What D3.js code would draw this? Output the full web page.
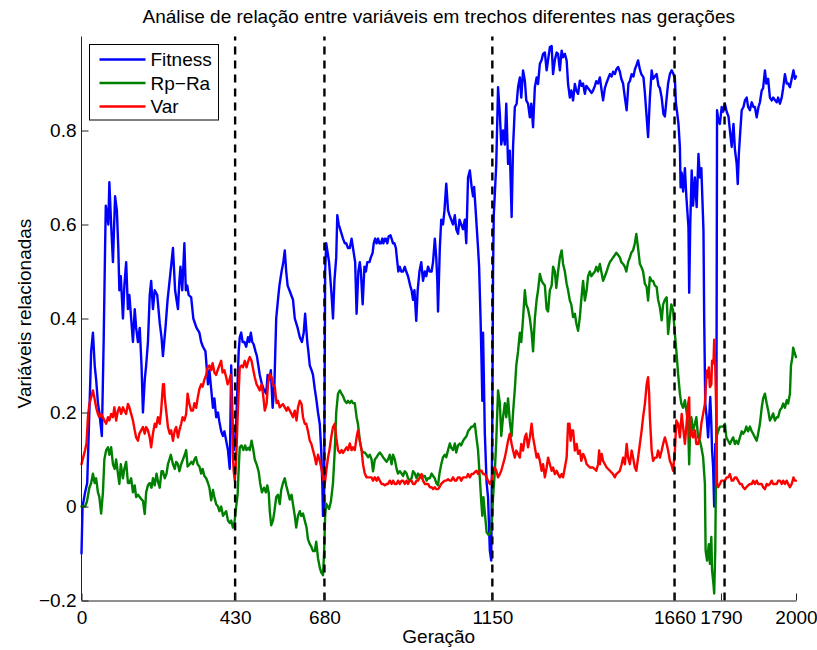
<!DOCTYPE html>
<html>
<head>
<meta charset="utf-8">
<script src="https://cdn.jsdelivr.net/npm/d3@7"></script>
<style>
  body { margin: 0; background: #fff; }
  svg { display: block; font-family: "Liberation Sans", Arial, Helvetica, sans-serif; }
</style>
</head>
<body>
<svg id="chart" width="817" height="650"></svg>
<script>
// [generation, value] pairs for each tracked variable
const fitness = [[0,-0.10],[3,0.0],[10,0.03],[16,0.05],[20,0.15],[27,0.33],[32,0.37],[37,0.30],[41,0.27],[46,0.22],[50,0.20],[57,0.15],[62,0.35],[66,0.55],[68,0.64],[72,0.62],[75,0.60],[78,0.69],[83,0.60],[88,0.52],[94,0.66],[99,0.63],[103,0.55],[106,0.46],[110,0.49],[116,0.40],[120,0.47],[125,0.52],[130,0.42],[134,0.45],[139,0.40],[144,0.35],[149,0.42],[153,0.38],[158,0.35],[163,0.38],[168,0.30],[172,0.20],[177,0.27],[181,0.30],[186,0.35],[191,0.45],[195,0.48],[200,0.42],[205,0.46],[212,0.45],[219,0.39],[224,0.36],[228,0.32],[235,0.38],[241,0.44],[248,0.49],[252,0.52],[256,0.55],[262,0.46],[266,0.44],[270,0.42],[274,0.48],[277,0.51],[282,0.46],[288,0.56],[292,0.46],[296,0.47],[300,0.45],[307,0.445],[313,0.40],[322,0.38],[330,0.37],[335,0.35],[340,0.34],[347,0.33],[354,0.26],[358,0.29],[363,0.25],[368,0.21],[372,0.23],[377,0.19],[382,0.20],[386,0.18],[391,0.16],[396,0.15],[400,0.16],[405,0.14],[410,0.12],[415,0.08],[419,0.30],[423,0.17],[427,0.12],[431,0.14],[435,0.22],[440,0.33],[443,0.36],[447,0.37],[451,0.35],[456,0.35],[461,0.34],[466,0.36],[470,0.35],[474,0.37],[478,0.35],[482,0.345],[487,0.33],[491,0.32],[495,0.30],[499,0.28],[505,0.26],[510,0.25],[517,0.24],[521,0.28],[526,0.27],[530,0.29],[535,0.21],[540,0.26],[545,0.40],[550,0.44],[554,0.47],[560,0.50],[565,0.52],[569,0.545],[573,0.50],[577,0.47],[582,0.46],[587,0.45],[592,0.44],[597,0.40],[601,0.39],[605,0.38],[611,0.36],[617,0.35],[622,0.37],[626,0.41],[632,0.35],[635,0.33],[639,0.30],[644,0.29],[648,0.28],[653,0.25],[657,0.23],[662,0.20],[667,0.175],[671,0.12],[674,0.05],[676,-0.02],[679,0.0],[682,0.50],[685,0.56],[689,0.54],[693,0.52],[697,0.48],[700,0.45],[704,0.40],[708,0.48],[713,0.53],[716,0.62],[720,0.60],[724,0.59],[728,0.58],[732,0.57],[737,0.56],[741,0.56],[746,0.55],[751,0.55],[756,0.57],[762,0.54],[766,0.52],[770,0.41],[775,0.50],[779,0.52],[782,0.50],[787,0.43],[792,0.51],[796,0.50],[800,0.52],[806,0.52],[810,0.53],[815,0.54],[818,0.56],[822,0.57],[826,0.56],[830,0.57],[834,0.56],[838,0.56],[842,0.57],[845,0.56],[849,0.57],[852,0.57],[856,0.56],[860,0.575],[865,0.577],[868,0.57],[872,0.56],[876,0.56],[880,0.55],[884,0.52],[887,0.50],[891,0.51],[895,0.50],[900,0.50],[905,0.51],[909,0.50],[914,0.49],[920,0.47],[924,0.46],[928,0.44],[932,0.46],[937,0.395],[941,0.46],[946,0.50],[951,0.52],[956,0.48],[961,0.50],[965,0.49],[970,0.51],[975,0.50],[980,0.50],[984,0.52],[989,0.57],[993,0.53],[996,0.48],[998,0.415],[1003,0.55],[1007,0.61],[1012,0.60],[1016,0.63],[1021,0.687],[1026,0.63],[1030,0.62],[1035,0.61],[1040,0.60],[1045,0.62],[1049,0.59],[1054,0.58],[1058,0.61],[1063,0.60],[1068,0.59],[1073,0.61],[1077,0.56],[1082,0.70],[1087,0.715],[1092,0.68],[1096,0.66],[1099,0.68],[1105,0.61],[1110,0.55],[1113,0.51],[1117,0.40],[1120,0.30],[1122,0.225],[1124,0.37],[1129,0.155],[1134,0.05],[1138,0.02],[1143,-0.094],[1147,-0.115],[1150,0.20],[1152,0.50],[1154,0.62],[1157,0.665],[1161,0.729],[1166,0.892],[1171,0.835],[1175,0.77],[1180,0.80],[1185,0.77],[1189,0.857],[1194,0.729],[1199,0.757],[1204,0.616],[1208,0.765],[1213,0.85],[1218,0.857],[1222,0.892],[1227,0.913],[1231,0.87],[1236,0.928],[1241,0.906],[1245,0.864],[1250,0.857],[1255,0.828],[1259,0.857],[1264,0.807],[1269,0.892],[1274,0.913],[1278,0.899],[1283,0.942],[1288,0.95],[1292,0.963],[1297,0.966],[1302,0.928],[1306,0.95],[1311,0.977],[1316,0.98],[1320,0.92],[1325,0.95],[1330,0.966],[1334,0.963],[1339,0.928],[1344,0.97],[1348,0.956],[1353,0.963],[1358,0.949],[1362,0.899],[1367,0.87],[1371,0.885],[1376,0.864],[1381,0.899],[1385,0.885],[1390,0.878],[1395,0.906],[1400,0.895],[1404,0.90],[1409,0.878],[1413,0.895],[1418,0.89],[1423,0.885],[1428,0.88],[1432,0.885],[1437,0.895],[1441,0.905],[1446,0.90],[1451,0.913],[1455,0.89],[1460,0.864],[1465,0.89],[1469,0.90],[1474,0.91],[1479,0.92],[1484,0.915],[1488,0.925],[1493,0.92],[1497,0.93],[1502,0.935],[1507,0.925],[1511,0.91],[1516,0.90],[1521,0.87],[1526,0.843],[1531,0.90],[1535,0.905],[1540,0.92],[1545,0.915],[1549,0.93],[1554,0.94],[1558,0.949],[1563,0.93],[1567,0.92],[1573,0.913],[1577,0.88],[1582,0.828],[1586,0.786],[1591,0.87],[1596,0.928],[1600,0.91],[1605,0.915],[1610,0.92],[1615,0.895],[1619,0.89],[1624,0.87],[1629,0.835],[1633,0.83],[1638,0.87],[1642,0.90],[1647,0.92],[1652,0.928],[1657,0.92],[1661,0.91],[1664,0.857],[1667,0.84],[1671,0.814],[1675,0.765],[1677,0.679],[1680,0.71],[1684,0.67],[1689,0.72],[1693,0.66],[1699,0.594],[1701,0.455],[1704,0.60],[1708,0.715],[1712,0.64],[1717,0.70],[1722,0.637],[1727,0.75],[1731,0.70],[1735,0.72],[1741,0.587],[1743,0.40],[1746,0.22],[1750,0.19],[1754,0.147],[1758,0.205],[1760,0.233],[1763,0.176],[1765,0.12],[1768,0.084],[1771,0.00],[1774,0.133],[1777,0.10],[1779,0.843],[1783,0.82],[1787,0.814],[1792,0.85],[1796,0.84],[1801,0.857],[1806,0.84],[1811,0.83],[1815,0.80],[1820,0.765],[1825,0.814],[1829,0.76],[1834,0.729],[1837,0.686],[1840,0.75],[1843,0.786],[1848,0.843],[1853,0.85],[1857,0.864],[1862,0.87],[1866,0.85],[1871,0.843],[1876,0.86],[1881,0.85],[1885,0.85],[1890,0.828],[1895,0.85],[1899,0.86],[1904,0.885],[1908,0.89],[1913,0.928],[1917,0.90],[1922,0.91],[1927,0.87],[1932,0.864],[1936,0.87],[1941,0.865],[1946,0.86],[1950,0.87],[1955,0.857],[1960,0.87],[1964,0.89],[1969,0.92],[1974,0.90],[1978,0.90],[1983,0.892],[1988,0.91],[1993,0.928],[1997,0.91],[2000,0.915]];

const rpRa = [[0,0.0],[10,0.0],[15,0.01],[22,0.04],[27,0.05],[32,0.07],[37,0.05],[41,0.06],[46,0.03],[50,0.02],[55,-0.015],[60,0.03],[64,0.10],[69,0.12],[74,0.126],[78,0.11],[83,0.126],[88,0.09],[93,0.08],[97,0.10],[102,0.07],[106,0.048],[110,0.09],[116,0.06],[120,0.08],[125,0.095],[130,0.05],[134,0.05],[139,0.06],[144,0.03],[149,0.045],[153,0.02],[158,0.025],[163,0.02],[168,0.015],[172,0.012],[177,-0.016],[181,0.03],[186,0.045],[191,0.05],[196,0.04],[200,0.06],[205,0.045],[210,0.07],[215,0.05],[219,0.04],[224,0.075],[228,0.075],[233,0.06],[238,0.07],[242,0.09],[246,0.10],[250,0.11],[256,0.09],[261,0.08],[265,0.095],[270,0.09],[274,0.075],[279,0.09],[284,0.10],[289,0.11],[293,0.12],[297,0.085],[303,0.09],[308,0.095],[312,0.09],[316,0.10],[320,0.105],[325,0.09],[330,0.085],[335,0.07],[339,0.08],[344,0.065],[349,0.06],[354,0.05],[358,0.04],[363,0.013],[368,0.035],[372,0.02],[377,0.005],[382,0.0],[386,-0.01],[391,0.0],[396,-0.02],[400,-0.015],[405,-0.01],[410,-0.03],[415,-0.035],[419,-0.03],[424,-0.045],[428,-0.035],[433,0.0],[437,0.025],[440,0.08],[443,0.126],[448,0.13],[453,0.12],[458,0.13],[462,0.12],[467,0.125],[471,0.12],[476,0.14],[480,0.125],[485,0.10],[490,0.09],[496,0.074],[500,0.05],[505,0.03],[511,0.04],[516,0.03],[520,0.045],[524,0.03],[527,-0.01],[531,-0.04],[536,-0.03],[540,-0.01],[545,0.02],[550,0.025],[555,0.005],[559,0.035],[564,0.05],[569,0.06],[573,0.045],[578,0.03],[583,0.015],[588,0.025],[592,0.005],[597,-0.02],[601,-0.045],[606,-0.02],[611,-0.01],[615,-0.02],[620,-0.015],[625,-0.03],[630,-0.045],[634,-0.07],[639,-0.08],[643,-0.085],[648,-0.095],[653,-0.095],[657,-0.075],[662,-0.11],[667,-0.13],[671,-0.14],[676,-0.146],[679,-0.10],[682,-0.02],[685,0.006],[689,0.0],[693,-0.005],[698,0.01],[704,0.05],[709,0.12],[713,0.20],[718,0.24],[723,0.247],[728,0.24],[732,0.235],[737,0.225],[742,0.22],[746,0.225],[751,0.22],[756,0.225],[760,0.22],[765,0.22],[770,0.19],[774,0.175],[779,0.14],[784,0.12],[789,0.115],[793,0.115],[798,0.11],[802,0.105],[807,0.11],[812,0.10],[816,0.075],[821,0.10],[826,0.105],[830,0.11],[835,0.115],[840,0.11],[844,0.105],[849,0.10],[854,0.095],[858,0.10],[863,0.11],[868,0.09],[872,0.11],[877,0.10],[882,0.08],[886,0.07],[891,0.075],[896,0.07],[900,0.065],[905,0.075],[910,0.07],[914,0.06],[919,0.055],[924,0.06],[928,0.075],[933,0.07],[938,0.06],[942,0.07],[947,0.065],[952,0.06],[956,0.065],[961,0.065],[966,0.055],[970,0.06],[975,0.06],[980,0.07],[984,0.065],[989,0.06],[993,0.05],[998,0.045],[1002,0.07],[1007,0.09],[1012,0.105],[1017,0.11],[1021,0.105],[1026,0.12],[1031,0.134],[1035,0.125],[1040,0.12],[1045,0.134],[1049,0.115],[1054,0.13],[1059,0.134],[1063,0.13],[1068,0.14],[1073,0.145],[1078,0.15],[1082,0.16],[1087,0.165],[1092,0.17],[1096,0.17],[1101,0.176],[1105,0.15],[1110,0.12],[1115,0.06],[1119,0.01],[1122,-0.02],[1125,0.02],[1128,-0.005],[1134,-0.055],[1139,-0.06],[1143,-0.058],[1148,-0.045],[1152,0.02],[1157,0.075],[1161,0.14],[1166,0.247],[1171,0.22],[1175,0.15],[1180,0.19],[1185,0.22],[1189,0.19],[1194,0.23],[1199,0.18],[1204,0.15],[1208,0.20],[1213,0.25],[1217,0.30],[1222,0.33],[1227,0.37],[1231,0.35],[1236,0.40],[1241,0.46],[1245,0.43],[1250,0.42],[1255,0.40],[1260,0.37],[1264,0.33],[1269,0.40],[1274,0.44],[1278,0.46],[1283,0.495],[1288,0.48],[1292,0.475],[1297,0.47],[1302,0.42],[1306,0.415],[1311,0.46],[1316,0.47],[1320,0.51],[1325,0.50],[1329,0.465],[1334,0.50],[1339,0.53],[1344,0.545],[1348,0.516],[1353,0.50],[1358,0.474],[1362,0.46],[1367,0.438],[1371,0.43],[1376,0.403],[1381,0.41],[1385,0.39],[1390,0.374],[1395,0.403],[1399,0.44],[1404,0.48],[1409,0.438],[1414,0.46],[1418,0.49],[1423,0.50],[1427,0.49],[1432,0.495],[1437,0.50],[1441,0.51],[1446,0.50],[1451,0.516],[1455,0.50],[1460,0.48],[1465,0.49],[1470,0.50],[1474,0.51],[1479,0.52],[1484,0.525],[1488,0.53],[1493,0.535],[1497,0.54],[1502,0.535],[1507,0.53],[1511,0.52],[1516,0.516],[1521,0.51],[1525,0.50],[1530,0.52],[1535,0.53],[1539,0.54],[1544,0.545],[1549,0.56],[1553,0.58],[1558,0.55],[1563,0.516],[1567,0.51],[1572,0.50],[1577,0.474],[1582,0.467],[1586,0.438],[1591,0.488],[1596,0.48],[1600,0.48],[1605,0.47],[1610,0.467],[1614,0.44],[1619,0.424],[1624,0.396],[1628,0.43],[1633,0.44],[1638,0.445],[1642,0.367],[1647,0.403],[1651,0.43],[1656,0.417],[1661,0.367],[1665,0.332],[1670,0.282],[1675,0.24],[1679,0.219],[1684,0.21],[1689,0.226],[1693,0.205],[1698,0.176],[1701,0.09],[1703,0.147],[1707,0.19],[1712,0.162],[1717,0.176],[1721,0.19],[1726,0.147],[1731,0.14],[1735,0.126],[1740,0.105],[1745,0.048],[1747,-0.094],[1751,-0.115],[1756,-0.08],[1759,-0.122],[1763,-0.065],[1765,-0.136],[1769,-0.165],[1771,-0.185],[1774,-0.094],[1777,0.147],[1782,0.16],[1787,0.17],[1796,0.17],[1801,0.176],[1805,0.147],[1810,0.14],[1815,0.133],[1819,0.14],[1824,0.147],[1829,0.133],[1833,0.14],[1838,0.133],[1843,0.147],[1848,0.16],[1852,0.155],[1857,0.16],[1861,0.17],[1866,0.16],[1871,0.17],[1876,0.16],[1880,0.155],[1885,0.147],[1890,0.14],[1894,0.155],[1899,0.176],[1904,0.21],[1908,0.23],[1913,0.24],[1918,0.219],[1922,0.205],[1927,0.183],[1932,0.19],[1936,0.198],[1941,0.183],[1946,0.19],[1950,0.19],[1955,0.205],[1960,0.21],[1964,0.219],[1969,0.21],[1974,0.226],[1978,0.219],[1983,0.24],[1986,0.30],[1990,0.318],[1992,0.338],[1995,0.33],[2000,0.318]];

const variance = [[0,0.09],[5,0.105],[10,0.12],[14,0.134],[18,0.19],[22,0.218],[27,0.232],[32,0.247],[36,0.232],[41,0.211],[46,0.197],[50,0.19],[55,0.197],[60,0.19],[64,0.183],[69,0.176],[74,0.19],[78,0.183],[83,0.197],[88,0.19],[92,0.211],[97,0.183],[102,0.204],[106,0.211],[111,0.197],[116,0.211],[120,0.204],[125,0.197],[130,0.218],[134,0.211],[139,0.197],[144,0.183],[149,0.162],[153,0.147],[158,0.14],[162,0.155],[167,0.162],[172,0.169],[177,0.155],[181,0.169],[186,0.162],[191,0.147],[195,0.126],[200,0.155],[205,0.176],[209,0.169],[214,0.19],[219,0.176],[223,0.204],[228,0.26],[231,0.26],[233,0.232],[237,0.204],[242,0.169],[247,0.155],[251,0.162],[256,0.14],[261,0.162],[265,0.169],[270,0.147],[274,0.162],[279,0.176],[283,0.19],[288,0.183],[293,0.197],[297,0.24],[302,0.218],[307,0.204],[312,0.204],[316,0.22],[321,0.21],[325,0.23],[330,0.25],[335,0.26],[339,0.255],[344,0.27],[349,0.28],[353,0.295],[358,0.30],[363,0.29],[367,0.305],[372,0.285],[377,0.28],[381,0.29],[386,0.30],[391,0.31],[395,0.285],[400,0.29],[405,0.275],[409,0.26],[414,0.27],[418,0.28],[421,0.20],[424,0.104],[426,0.076],[429,0.055],[433,0.10],[437,0.19],[440,0.245],[443,0.296],[448,0.30],[452,0.296],[457,0.31],[462,0.296],[467,0.31],[471,0.318],[476,0.31],[481,0.29],[485,0.275],[490,0.26],[494,0.255],[499,0.247],[504,0.26],[508,0.24],[513,0.204],[518,0.218],[522,0.26],[527,0.282],[532,0.275],[536,0.26],[541,0.255],[546,0.22],[550,0.225],[555,0.211],[560,0.215],[564,0.218],[569,0.211],[574,0.204],[578,0.211],[583,0.204],[588,0.197],[592,0.19],[597,0.204],[602,0.183],[606,0.211],[611,0.225],[616,0.218],[620,0.19],[625,0.176],[629,0.176],[634,0.16],[639,0.14],[643,0.134],[648,0.12],[653,0.105],[657,0.09],[662,0.11],[667,0.097],[671,0.083],[676,0.062],[679,0.05],[681,0.048],[685,0.075],[690,0.104],[694,0.12],[699,0.147],[704,0.169],[709,0.176],[713,0.147],[718,0.12],[723,0.114],[728,0.12],[732,0.114],[737,0.12],[742,0.126],[746,0.12],[751,0.134],[756,0.12],[760,0.126],[765,0.12],[770,0.147],[774,0.162],[779,0.14],[784,0.12],[788,0.09],[793,0.07],[798,0.062],[802,0.062],[807,0.062],[812,0.062],[816,0.055],[821,0.062],[826,0.055],[830,0.062],[835,0.055],[840,0.048],[844,0.048],[849,0.045],[854,0.048],[858,0.048],[863,0.055],[868,0.048],[872,0.055],[877,0.048],[882,0.048],[886,0.055],[891,0.048],[896,0.055],[900,0.055],[905,0.048],[910,0.055],[914,0.048],[919,0.055],[924,0.055],[928,0.048],[933,0.048],[938,0.055],[942,0.055],[947,0.062],[952,0.069],[956,0.055],[961,0.048],[966,0.048],[970,0.048],[975,0.041],[980,0.041],[984,0.037],[989,0.041],[993,0.037],[998,0.037],[1002,0.041],[1007,0.048],[1012,0.052],[1017,0.055],[1021,0.055],[1026,0.058],[1031,0.055],[1035,0.055],[1040,0.062],[1045,0.055],[1049,0.055],[1054,0.062],[1059,0.062],[1063,0.055],[1068,0.062],[1073,0.062],[1078,0.062],[1082,0.069],[1087,0.062],[1092,0.069],[1096,0.069],[1101,0.073],[1106,0.076],[1110,0.069],[1115,0.076],[1120,0.076],[1124,0.069],[1129,0.069],[1134,0.062],[1138,0.055],[1143,0.048],[1148,0.055],[1152,0.076],[1157,0.083],[1161,0.076],[1166,0.062],[1171,0.069],[1175,0.076],[1180,0.09],[1185,0.104],[1189,0.119],[1194,0.14],[1199,0.155],[1204,0.133],[1208,0.119],[1213,0.104],[1217,0.119],[1222,0.112],[1227,0.104],[1231,0.133],[1236,0.119],[1241,0.147],[1245,0.155],[1250,0.126],[1255,0.147],[1260,0.176],[1264,0.147],[1269,0.126],[1274,0.104],[1278,0.112],[1283,0.097],[1288,0.076],[1292,0.09],[1297,0.062],[1302,0.083],[1306,0.104],[1311,0.09],[1316,0.076],[1320,0.083],[1325,0.069],[1330,0.076],[1334,0.069],[1339,0.062],[1344,0.069],[1348,0.062],[1353,0.083],[1358,0.104],[1362,0.176],[1366,0.176],[1369,0.14],[1372,0.162],[1376,0.162],[1381,0.119],[1386,0.133],[1390,0.112],[1395,0.119],[1399,0.097],[1404,0.112],[1409,0.104],[1414,0.09],[1423,0.083],[1432,0.083],[1441,0.076],[1446,0.09],[1449,0.119],[1451,0.09],[1456,0.112],[1460,0.097],[1465,0.09],[1470,0.083],[1479,0.076],[1488,0.069],[1493,0.062],[1497,0.069],[1507,0.076],[1512,0.09],[1516,0.104],[1521,0.09],[1526,0.133],[1530,0.104],[1535,0.09],[1540,0.119],[1544,0.104],[1549,0.083],[1553,0.076],[1558,0.104],[1563,0.133],[1568,0.162],[1572,0.19],[1577,0.218],[1582,0.26],[1586,0.275],[1589,0.24],[1591,0.19],[1596,0.119],[1600,0.097],[1605,0.104],[1610,0.104],[1614,0.119],[1619,0.104],[1624,0.119],[1628,0.133],[1633,0.147],[1638,0.133],[1642,0.119],[1647,0.097],[1651,0.09],[1656,0.076],[1661,0.119],[1665,0.183],[1670,0.176],[1675,0.147],[1680,0.197],[1684,0.169],[1689,0.133],[1693,0.169],[1698,0.218],[1701,0.232],[1703,0.147],[1707,0.162],[1712,0.147],[1717,0.162],[1721,0.133],[1726,0.133],[1731,0.147],[1735,0.176],[1740,0.197],[1745,0.218],[1750,0.289],[1752,0.275],[1756,0.296],[1759,0.254],[1763,0.26],[1765,0.31],[1769,0.305],[1771,0.355],[1774,0.30],[1777,0.19],[1779,0.048],[1782,0.041],[1787,0.048],[1791,0.055],[1796,0.055],[1801,0.055],[1806,0.062],[1810,0.062],[1815,0.069],[1820,0.055],[1824,0.055],[1829,0.062],[1833,0.062],[1838,0.055],[1843,0.048],[1848,0.048],[1852,0.041],[1857,0.037],[1861,0.041],[1866,0.045],[1871,0.048],[1876,0.048],[1880,0.055],[1885,0.048],[1890,0.055],[1894,0.048],[1899,0.048],[1904,0.048],[1908,0.041],[1913,0.037],[1918,0.048],[1922,0.045],[1927,0.048],[1932,0.055],[1936,0.048],[1941,0.048],[1946,0.048],[1950,0.055],[1955,0.055],[1960,0.048],[1964,0.055],[1969,0.048],[1974,0.055],[1978,0.048],[1983,0.041],[1988,0.048],[1993,0.062],[1997,0.055],[2000,0.055]];

const seriesNames = ["Fitness", "Rp\u2212Ra", "Var"];
const seriesColors = ["#0000ff", "#008000", "#ff0000"];
const xTickValues = [0, 430, 680, 1150, 1660, 1790, 2000];
const yTickValues = [-0.2, 0, 0.2, 0.4, 0.6, 0.8];
const segmentBreaks = [430, 680, 1150, 1660, 1800];

const titleText = "Análise de relação entre variáveis em trechos diferentes nas gerações";
const xLabelText = "Geração";
const yLabelText = "Variáveis relacionadas";

// layout
const plotLeft = 81.5, plotRight = 796, plotTop = 36.5, plotBottom = 600.5;
const fontSize = 19;

const svg = d3.select("#chart");

const x = d3.scaleLinear().domain([0, 2000]).range([plotLeft, plotRight]);
const y = d3.scaleLinear().domain([-0.2, 1.0]).range([plotBottom, plotTop]);

// series lines
const line = d3.line().x(d => x(d[0])).y(d => y(d[1]));
const allSeries = [fitness, rpRa, variance];

svg.append("g")
  .selectAll("path")
  .data(allSeries)
  .join("path")
  .attr("d", line)
  .attr("fill", "none")
  .attr("stroke", (d, i) => seriesColors[i])
  .attr("stroke-width", 2.4)
  .attr("stroke-linejoin", "round")
  .attr("stroke-linecap", "round");

// vertical dashed markers between generation segments
svg.append("g")
  .selectAll("line")
  .data(segmentBreaks)
  .join("line")
  .attr("x1", d => x(d)).attr("x2", d => x(d))
  .attr("y1", y(-0.2)).attr("y2", y(1.0))
  .attr("stroke", "#000")
  .attr("stroke-width", 2.4)
  .attr("stroke-dasharray", "8,6");

// axes (ticks point into the plot area)
const xAxis = d3.axisBottom(x)
  .tickValues(xTickValues)
  .tickFormat(d3.format("d"))
  .tickSizeInner(-7)
  .tickSizeOuter(0)
  .tickPadding(10);

const yAxis = d3.axisLeft(y)
  .tickValues(yTickValues)
  .tickFormat(d => d === 0 ? "0" : d3.format(".1f")(d))
  .tickSizeInner(-7)
  .tickSizeOuter(0)
  .tickPadding(5);

const gx = svg.append("g")
  .attr("transform", `translate(0,${plotBottom})`)
  .call(xAxis);
const gy = svg.append("g")
  .attr("transform", `translate(${plotLeft},0)`)
  .call(yAxis);

[gx, gy].forEach(g => {
  g.attr("font-family", null).attr("font-size", fontSize);
  g.select(".domain").attr("stroke", "#222").attr("stroke-width", 1);
  g.selectAll(".tick line").attr("stroke", "#222").attr("stroke-width", 1);
  g.selectAll(".tick text").attr("fill", "#000");
});
gy.select(".domain").attr("d", `M0,${plotBottom}V${plotTop}`);

// title and axis labels
svg.append("text")
  .attr("x", (plotLeft + plotRight) / 2)
  .attr("y", 23)
  .attr("text-anchor", "middle")
  .attr("font-size", fontSize)
  .attr("fill", "#000")
  .text(titleText);

svg.append("text")
  .attr("x", (plotLeft + plotRight) / 2)
  .attr("y", 643)
  .attr("text-anchor", "middle")
  .attr("font-size", fontSize)
  .attr("fill", "#000")
  .text(xLabelText);

svg.append("text")
  .attr("transform", `translate(31,${(plotTop + plotBottom) / 2 - 5}) rotate(-90)`)
  .attr("text-anchor", "middle")
  .attr("font-size", fontSize)
  .attr("fill", "#000")
  .text(yLabelText);

// legend
const legend = svg.append("g").attr("transform", "translate(89.5,44.5)");
legend.append("rect")
  .attr("width", 129).attr("height", 75.5)
  .attr("fill", "#fff")
  .attr("stroke", "#000")
  .attr("stroke-width", 1);

const rows = legend.selectAll("g.row")
  .data(seriesNames)
  .join("g")
  .attr("class", "row")
  .attr("transform", (d, i) => `translate(0,${15 + i * 23.5})`);

rows.append("line")
  .attr("x1", 10).attr("x2", 56)
  .attr("stroke", (d, i) => seriesColors[i])
  .attr("stroke-width", 2.4);

rows.append("text")
  .attr("x", 61)
  .attr("y", 6.8)
  .attr("font-size", fontSize)
  .attr("fill", "#000")
  .text(d => d);
</script>
</body>
</html>
